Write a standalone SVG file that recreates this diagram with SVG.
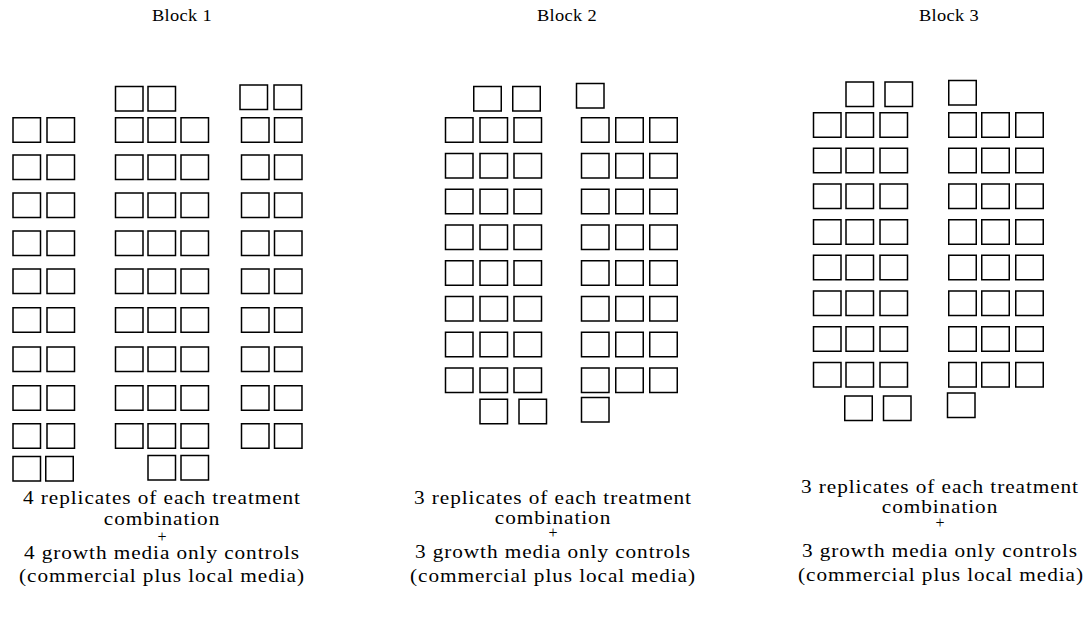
<svg xmlns="http://www.w3.org/2000/svg" xmlns:xlink="http://www.w3.org/1999/xlink" width="1086" height="624" viewBox="0 0 1086 624">
  <style>
    .cell { fill: #ffffff; stroke: #000000; stroke-width: 1.5; }
    .title { font-family: "Liberation Serif", "Times New Roman", serif; font-size: 16px; letter-spacing: 0.3px; fill: #000000; text-anchor: middle; }
    .note { font-family: "Liberation Serif", "Times New Roman", serif; font-size: 18.5px; letter-spacing: 0.8px; fill: #000000; text-anchor: middle; }
    .plus { font-family: "Liberation Serif", "Times New Roman", serif; font-size: 16px; fill: #000000; text-anchor: middle; }
  </style>
  <defs>
    <rect id="cell" class="cell" width="27.5" height="24.5"/>
  </defs>
  <rect width="1086" height="624" fill="#ffffff"/>

  <!-- Block 1: two-wide, three-wide and two-wide columns of pots -->
  <g id="block1">
    <text class="title" transform="translate(182,21) scale(1.15,1)">Block 1</text>
    <!-- top extras -->
    <use xlink:href="#cell" x="115.5" y="86.5"/>
    <use xlink:href="#cell" x="148" y="86.5"/>
    <use xlink:href="#cell" x="240" y="85"/>
    <use xlink:href="#cell" x="274" y="85"/>
    <!-- nine full rows -->
    <g id="b1-row1" transform="translate(0,117.75)">
      <use xlink:href="#cell" x="13"/><use xlink:href="#cell" x="47"/>
      <use xlink:href="#cell" x="115.5"/><use xlink:href="#cell" x="148"/><use xlink:href="#cell" x="181"/>
      <use xlink:href="#cell" x="241.5"/><use xlink:href="#cell" x="274.5"/>
    </g>
    <g id="b1-row2" transform="translate(0,155)">
      <use xlink:href="#cell" x="13"/><use xlink:href="#cell" x="47"/>
      <use xlink:href="#cell" x="115.5"/><use xlink:href="#cell" x="148"/><use xlink:href="#cell" x="181"/>
      <use xlink:href="#cell" x="241.5"/><use xlink:href="#cell" x="274.5"/>
    </g>
    <g id="b1-row3" transform="translate(0,193)">
      <use xlink:href="#cell" x="13"/><use xlink:href="#cell" x="47"/>
      <use xlink:href="#cell" x="115.5"/><use xlink:href="#cell" x="148"/><use xlink:href="#cell" x="181"/>
      <use xlink:href="#cell" x="241.5"/><use xlink:href="#cell" x="274.5"/>
    </g>
    <g id="b1-row4" transform="translate(0,231)">
      <use xlink:href="#cell" x="13"/><use xlink:href="#cell" x="47"/>
      <use xlink:href="#cell" x="115.5"/><use xlink:href="#cell" x="148"/><use xlink:href="#cell" x="181"/>
      <use xlink:href="#cell" x="241.5"/><use xlink:href="#cell" x="274.5"/>
    </g>
    <g id="b1-row5" transform="translate(0,269)">
      <use xlink:href="#cell" x="13"/><use xlink:href="#cell" x="47"/>
      <use xlink:href="#cell" x="115.5"/><use xlink:href="#cell" x="148"/><use xlink:href="#cell" x="181"/>
      <use xlink:href="#cell" x="241.5"/><use xlink:href="#cell" x="274.5"/>
    </g>
    <g id="b1-row6" transform="translate(0,307.75)">
      <use xlink:href="#cell" x="13"/><use xlink:href="#cell" x="47"/>
      <use xlink:href="#cell" x="115.5"/><use xlink:href="#cell" x="148"/><use xlink:href="#cell" x="181"/>
      <use xlink:href="#cell" x="241.5"/><use xlink:href="#cell" x="274.5"/>
    </g>
    <g id="b1-row7" transform="translate(0,347)">
      <use xlink:href="#cell" x="13"/><use xlink:href="#cell" x="47"/>
      <use xlink:href="#cell" x="115.5"/><use xlink:href="#cell" x="148"/><use xlink:href="#cell" x="181"/>
      <use xlink:href="#cell" x="241.5"/><use xlink:href="#cell" x="274.5"/>
    </g>
    <g id="b1-row8" transform="translate(0,385.75)">
      <use xlink:href="#cell" x="13"/><use xlink:href="#cell" x="47"/>
      <use xlink:href="#cell" x="115.5"/><use xlink:href="#cell" x="148"/><use xlink:href="#cell" x="181"/>
      <use xlink:href="#cell" x="241.5"/><use xlink:href="#cell" x="274.5"/>
    </g>
    <g id="b1-row9" transform="translate(0,423.75)">
      <use xlink:href="#cell" x="13"/><use xlink:href="#cell" x="47"/>
      <use xlink:href="#cell" x="115.5"/><use xlink:href="#cell" x="148"/><use xlink:href="#cell" x="181"/>
      <use xlink:href="#cell" x="241.5"/><use xlink:href="#cell" x="274.5"/>
    </g>
    <!-- bottom extras -->
    <use xlink:href="#cell" x="13" y="456.5"/>
    <use xlink:href="#cell" x="45.75" y="456.5"/>
    <use xlink:href="#cell" x="148" y="455.5"/>
    <use xlink:href="#cell" x="181" y="455.5"/>
    <text class="note" transform="translate(162,504) scale(1.15,1)">4 replicates of each treatment</text>
    <text class="note" transform="translate(162,525) scale(1.15,1)">combination</text>
    <text class="plus" x="162" y="542">+</text>
    <text class="note" transform="translate(162,559) scale(1.15,1)">4 growth media only controls</text>
    <text class="note" transform="translate(162,582) scale(1.15,1)">(commercial plus local media)</text>
  </g>

  <!-- Block 2: two three-wide columns of pots -->
  <g id="block2">
    <text class="title" transform="translate(567,21) scale(1.15,1)">Block 2</text>
    <use xlink:href="#cell" x="473.75" y="86.5"/>
    <use xlink:href="#cell" x="512.75" y="86.5"/>
    <use xlink:href="#cell" x="576.5" y="83.5"/>
    <g id="b2-row1" transform="translate(0,117.75)">
      <use xlink:href="#cell" x="445.5"/><use xlink:href="#cell" x="480"/><use xlink:href="#cell" x="514"/>
      <use xlink:href="#cell" x="581.5"/><use xlink:href="#cell" x="615.75"/><use xlink:href="#cell" x="649.75"/>
    </g>
    <g id="b2-row2" transform="translate(0,153.5)">
      <use xlink:href="#cell" x="445.5"/><use xlink:href="#cell" x="480"/><use xlink:href="#cell" x="514"/>
      <use xlink:href="#cell" x="581.5"/><use xlink:href="#cell" x="615.75"/><use xlink:href="#cell" x="649.75"/>
    </g>
    <g id="b2-row3" transform="translate(0,189.25)">
      <use xlink:href="#cell" x="445.5"/><use xlink:href="#cell" x="480"/><use xlink:href="#cell" x="514"/>
      <use xlink:href="#cell" x="581.5"/><use xlink:href="#cell" x="615.75"/><use xlink:href="#cell" x="649.75"/>
    </g>
    <g id="b2-row4" transform="translate(0,225)">
      <use xlink:href="#cell" x="445.5"/><use xlink:href="#cell" x="480"/><use xlink:href="#cell" x="514"/>
      <use xlink:href="#cell" x="581.5"/><use xlink:href="#cell" x="615.75"/><use xlink:href="#cell" x="649.75"/>
    </g>
    <g id="b2-row5" transform="translate(0,260.75)">
      <use xlink:href="#cell" x="445.5"/><use xlink:href="#cell" x="480"/><use xlink:href="#cell" x="514"/>
      <use xlink:href="#cell" x="581.5"/><use xlink:href="#cell" x="615.75"/><use xlink:href="#cell" x="649.75"/>
    </g>
    <g id="b2-row6" transform="translate(0,296.5)">
      <use xlink:href="#cell" x="445.5"/><use xlink:href="#cell" x="480"/><use xlink:href="#cell" x="514"/>
      <use xlink:href="#cell" x="581.5"/><use xlink:href="#cell" x="615.75"/><use xlink:href="#cell" x="649.75"/>
    </g>
    <g id="b2-row7" transform="translate(0,332.25)">
      <use xlink:href="#cell" x="445.5"/><use xlink:href="#cell" x="480"/><use xlink:href="#cell" x="514"/>
      <use xlink:href="#cell" x="581.5"/><use xlink:href="#cell" x="615.75"/><use xlink:href="#cell" x="649.75"/>
    </g>
    <g id="b2-row8" transform="translate(0,368)">
      <use xlink:href="#cell" x="445.5"/><use xlink:href="#cell" x="480"/><use xlink:href="#cell" x="514"/>
      <use xlink:href="#cell" x="581.5"/><use xlink:href="#cell" x="615.75"/><use xlink:href="#cell" x="649.75"/>
    </g>
    <use xlink:href="#cell" x="480" y="399.25"/>
    <use xlink:href="#cell" x="519" y="399.25"/>
    <use xlink:href="#cell" x="581.5" y="397.5"/>
    <text class="note" transform="translate(553,504) scale(1.15,1)">3 replicates of each treatment</text>
    <text class="note" transform="translate(553,524) scale(1.15,1)">combination</text>
    <text class="plus" x="553" y="538">+</text>
    <text class="note" transform="translate(553,558) scale(1.15,1)">3 growth media only controls</text>
    <text class="note" transform="translate(553,582) scale(1.15,1)">(commercial plus local media)</text>
  </g>

  <!-- Block 3: two three-wide columns of pots -->
  <g id="block3">
    <text class="title" transform="translate(949,21) scale(1.15,1)">Block 3</text>
    <use xlink:href="#cell" x="846" y="82"/>
    <use xlink:href="#cell" x="885" y="82"/>
    <use xlink:href="#cell" x="948.75" y="80.5"/>
    <g id="b3-row1" transform="translate(0,112.75)">
      <use xlink:href="#cell" x="813.5"/><use xlink:href="#cell" x="846"/><use xlink:href="#cell" x="880"/>
      <use xlink:href="#cell" x="948.75"/><use xlink:href="#cell" x="981.75"/><use xlink:href="#cell" x="1015.75"/>
    </g>
    <g id="b3-row2" transform="translate(0,148.25)">
      <use xlink:href="#cell" x="813.5"/><use xlink:href="#cell" x="846"/><use xlink:href="#cell" x="880"/>
      <use xlink:href="#cell" x="948.75"/><use xlink:href="#cell" x="981.75"/><use xlink:href="#cell" x="1015.75"/>
    </g>
    <g id="b3-row3" transform="translate(0,184)">
      <use xlink:href="#cell" x="813.5"/><use xlink:href="#cell" x="846"/><use xlink:href="#cell" x="880"/>
      <use xlink:href="#cell" x="948.75"/><use xlink:href="#cell" x="981.75"/><use xlink:href="#cell" x="1015.75"/>
    </g>
    <g id="b3-row4" transform="translate(0,219.75)">
      <use xlink:href="#cell" x="813.5"/><use xlink:href="#cell" x="846"/><use xlink:href="#cell" x="880"/>
      <use xlink:href="#cell" x="948.75"/><use xlink:href="#cell" x="981.75"/><use xlink:href="#cell" x="1015.75"/>
    </g>
    <g id="b3-row5" transform="translate(0,255.25)">
      <use xlink:href="#cell" x="813.5"/><use xlink:href="#cell" x="846"/><use xlink:href="#cell" x="880"/>
      <use xlink:href="#cell" x="948.75"/><use xlink:href="#cell" x="981.75"/><use xlink:href="#cell" x="1015.75"/>
    </g>
    <g id="b3-row6" transform="translate(0,291)">
      <use xlink:href="#cell" x="813.5"/><use xlink:href="#cell" x="846"/><use xlink:href="#cell" x="880"/>
      <use xlink:href="#cell" x="948.75"/><use xlink:href="#cell" x="981.75"/><use xlink:href="#cell" x="1015.75"/>
    </g>
    <g id="b3-row7" transform="translate(0,326.75)">
      <use xlink:href="#cell" x="813.5"/><use xlink:href="#cell" x="846"/><use xlink:href="#cell" x="880"/>
      <use xlink:href="#cell" x="948.75"/><use xlink:href="#cell" x="981.75"/><use xlink:href="#cell" x="1015.75"/>
    </g>
    <g id="b3-row8" transform="translate(0,362.5)">
      <use xlink:href="#cell" x="813.5"/><use xlink:href="#cell" x="846"/><use xlink:href="#cell" x="880"/>
      <use xlink:href="#cell" x="948.75"/><use xlink:href="#cell" x="981.75"/><use xlink:href="#cell" x="1015.75"/>
    </g>
    <use xlink:href="#cell" x="844.75" y="396"/>
    <use xlink:href="#cell" x="883.5" y="396"/>
    <use xlink:href="#cell" x="947.5" y="393"/>
    <text class="note" transform="translate(940,493) scale(1.15,1)">3 replicates of each treatment</text>
    <text class="note" transform="translate(940,513) scale(1.15,1)">combination</text>
    <text class="plus" x="940" y="528">+</text>
    <text class="note" transform="translate(940,557) scale(1.15,1)">3 growth media only controls</text>
    <text class="note" transform="translate(941,581) scale(1.15,1)">(commercial plus local media)</text>
  </g>
</svg>
